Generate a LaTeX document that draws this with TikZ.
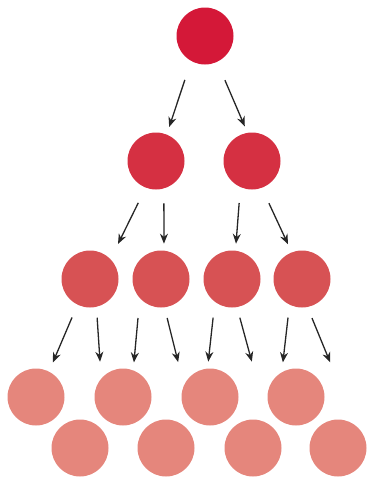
\documentclass[tikz,border=0pt]{standalone}
\usepackage{tikz}
\usetikzlibrary{arrows.meta}
\definecolor{gen1}{RGB}{212,24,56}
\definecolor{gen2}{RGB}{213,48,66}
\definecolor{gen3}{RGB}{215,82,84}
\definecolor{gen4}{RGB}{229,134,124}
\tikzset{->, >={Stealth[length=10pt,width=8pt]}, cell/.style={circle, minimum size=57pt, inner sep=0pt, outer sep=0pt}, every edge/.style={draw=black!85, line width=1.3pt}}

\begin{document}
\begin{tikzpicture}[x=1pt, y=-1pt]
        \useasboundingbox (0,0) rectangle (370,483);
        \node[cell, fill=gen1] at (205,36) (g1) {};
        \node[cell, fill=gen2] at (156,161) (g2a) {};
        \node[cell, fill=gen2] at (252,161) (g2b) {};
        \node[cell, fill=gen3] at (90,279) (g3a) {};
        \node[cell, fill=gen3] at (161,279) (g3b) {};
        \node[cell, fill=gen3] at (232,279) (g3c) {};
        \node[cell, fill=gen3] at (302,279) (g3d) {};
        \node[cell, fill=gen4] at (36,397) (g4a) {};
        \node[cell, fill=gen4] at (80,448) (g4b) {};
        \node[cell, fill=gen4] at (123,397) (g4c) {};
        \node[cell, fill=gen4] at (166,448) (g4d) {};
        \node[cell, fill=gen4] at (210,397) (g4e) {};
        \node[cell, fill=gen4] at (253,448) (g4f) {};
        \node[cell, fill=gen4] at (296,397) (g4g) {};
        \node[cell, fill=gen4] at (338,448) (g4h) {};

        \path (g1.-119) edge[shorten <=20pt, shorten >=8pt] (g2a.68)
              (g1.-65) edge[shorten <=20pt, shorten >=7pt] (g2b.99)
              (g2a.-111) edge[shorten <=17pt, shorten >=17pt] (g3a.44)
              (g2a.-74) edge[shorten <=15pt, shorten >=7pt] (g3b.84)
              (g2b.-114) edge[shorten <=16pt, shorten >=7pt] (g3c.83)
              (g2b.-70) edge[shorten <=17pt, shorten >=9pt] (g3d.111)
              (g3a.-116) edge[shorten <=14pt, shorten >=10pt] (g4a.63)
              (g3a.-77) edge[shorten <=11pt, shorten >=17pt] (g4c.140)
              (g3b.-138) edge[shorten <=20pt, shorten >=8pt] (g4c.69)
              (g3b.-83) edge[shorten <=11pt, shorten >=24pt] (g4e.156)
              (g3c.-127) edge[shorten <=16pt, shorten >=7pt] (g4e.95)
              (g3c.-80) edge[shorten <=11pt, shorten >=65pt] (g4f.56)
              (g3d.-116) edge[shorten <=13pt, shorten >=10pt] (g4g.120)
              (g3d.-79) edge[shorten <=12pt, shorten >=69pt] (g4h.50);
    \end{tikzpicture}
\end{document}
